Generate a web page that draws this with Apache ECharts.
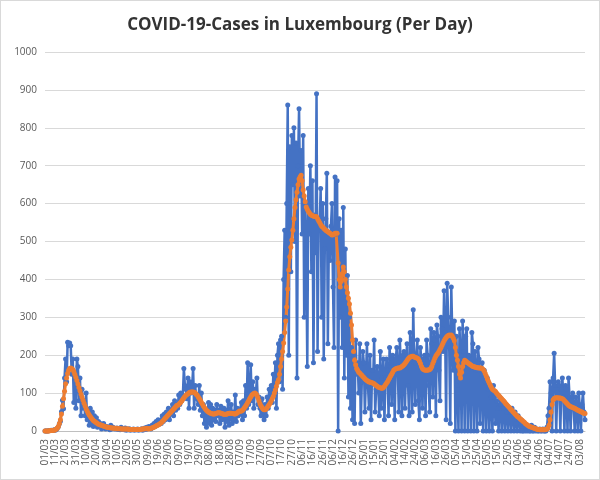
<!DOCTYPE html>
<html>
<head>
<meta charset="utf-8">
<script src="https://cdn.jsdelivr.net/npm/echarts@6/dist/echarts.min.js"></script>
<style>
html,body{margin:0;padding:0;background:#fff}
#chart{width:598px;height:478px;border:1px solid #d9d9d9}
</style>
</head>
<body>
<div id="chart"></div>
<script>
// daily new cases, 01/03/2020 .. 08/08/2021
var dailyCases = [
0,0,0,0,1,1,2,1,2,3,
2,4,7,12,19,26,51,81,59,140,
190,130,234,225,232,225,150,190,75,140,
60,190,170,80,140,40,110,60,80,40,
100,30,55,15,60,20,50,12,40,15,
35,10,25,15,20,5,15,20,10,5,
12,8,10,3,15,5,10,8,5,6,
8,4,6,3,10,4,5,3,8,2,
5,3,6,2,4,3,5,2,4,3,
5,2,4,3,6,2,5,8,4,10,
6,12,8,5,15,10,20,12,25,15,
30,18,25,20,40,25,45,30,50,35,
60,30,50,45,70,40,80,55,70,60,
95,70,100,80,90,165,120,110,85,140,
60,130,100,115,165,60,120,90,85,70,
120,55,100,40,70,20,50,10,45,75,
20,70,15,60,30,55,25,70,40,55,
20,65,30,40,60,10,55,25,80,15,
45,70,20,50,30,95,25,60,40,50,
45,75,30,80,40,120,60,180,70,100,
175,80,130,60,110,95,140,70,90,60,
40,85,55,30,70,40,90,60,110,80,
120,75,150,110,180,60,200,230,130,240,
250,110,400,530,300,600,860,200,750,420,
780,650,800,500,760,140,700,850,620,740,
520,780,300,600,480,170,640,520,700,420,
660,180,570,470,890,210,560,540,640,300,
600,190,480,560,680,230,520,450,540,600,
380,220,670,520,660,0,560,300,530,220,
590,140,480,200,410,90,300,60,220,30,
200,20,240,150,180,100,230,20,130,210,
180,50,140,230,120,60,200,30,160,130,
240,50,110,170,120,40,210,60,140,190,
30,140,190,160,40,220,180,70,200,170,
30,190,220,160,50,240,170,40,200,210,
60,180,230,120,40,260,220,50,320,180,
70,200,240,80,30,220,180,60,190,200,
40,240,200,120,50,270,230,90,260,240,
40,280,250,160,80,300,270,210,370,260,
30,390,300,220,20,380,250,160,290,0,
250,120,0,270,200,0,290,210,0,250,
270,0,200,180,0,260,230,0,210,160,
0,220,190,20,150,180,0,160,130,0,
140,110,0,120,90,0,120,90,20,80,
60,0,90,70,0,80,60,0,70,50,
0,60,50,0,60,40,0,50,20,0,
40,30,0,30,0,0,20,0,10,0,
10,0,0,15,0,0,10,0,5,0,
0,5,0,0,5,0,0,0,10,40,
60,130,100,0,140,205,120,0,100,130,
120,0,110,140,90,0,120,110,0,140,
90,0,80,100,60,0,90,70,0,100,
60,0,70,100,50,30
];
// 7-day average
var avgCases = [
0,0,0,0,0,1,1,1,2,2,
3,5,8,12,20,30,45,65,85,105,
125,140,152,160,165,166,165,162,157,150,
142,133,124,115,106,97,89,81,73,66,
59,53,47,42,38,34,31,28,26,24,
22,20,18,17,16,15,14,13,12,11,
10,10,9,9,8,8,8,7,7,7,
6,6,6,6,5,5,5,5,5,5,
5,5,4,4,4,4,4,4,4,4,
4,4,4,4,5,5,5,6,6,7,
5,6,6,7,8,9,10,12,13,15,
16,18,20,22,25,28,31,34,37,40,
43,46,49,52,55,58,61,64,67,68,
70,73,76,80,84,88,91,94,96,98,
101,102,103,103,103,102,100,97,94,90,
86,81,76,71,66,62,58,55,52,50,
48,47,46,45,45,45,46,47,48,48,
48,47,46,45,44,44,44,45,46,47,
47,47,46,46,45,45,46,48,50,53,
52,53,55,58,62,66,70,75,80,85,
90,94,97,99,100,98,94,88,80,72,
66,62,58,56,56,58,62,66,70,74,
80,86,92,100,108,118,128,135,150,170,
190,210,232,260,290,327,375,425,460,485,
504,530,560,590,610,630,650,665,670,675,
660,636,620,605,591,585,580,576,572,570,
568,567,566,566,565,560,555,550,545,540,
538,535,532,530,528,526,524,522,520,517,
518,520,522,522,522,443,400,380,395,415,
433,420,400,380,365,350,335,311,280,240,
210,187,175,165,160,155,153,150,147,144,
141,138,135,133,131,129,129,128,127,126,
125,122,120,118,116,115,114,113,113,115,
118,122,126,130,135,140,145,150,155,160,
162,164,165,166,166,166,168,170,172,175,
178,182,186,190,193,195,196,197,197,195,
194,193,192,190,185,178,170,165,162,161,
160,160,161,161,162,165,170,178,185,192,
198,202,205,210,215,220,226,232,238,243,
247,250,252,253,252,253,250,245,238,220,
200,187,170,150,140,155,170,180,187,185,
182,180,178,176,174,172,170,170,168,168,
167,167,166,166,166,165,162,158,152,145,
138,132,126,120,115,110,108,106,104,100,
97,94,91,88,85,82,79,76,72,69,
66,63,60,57,54,51,48,45,42,39,
37,35,32,30,28,25,23,20,18,16,
14,12,11,10,9,8,7,6,5,4,
4,3,3,3,3,3,3,4,5,8,
15,30,50,70,82,86,87,88,88,87,
87,87,86,85,83,80,77,74,71,68,
66,64,63,62,61,60,58,57,55,54,
52,51,50,48,47,46
];

// date labels dd/mm, one per day
var days = [];
var d = new Date(Date.UTC(2020, 2, 1));
for (var i = 0; i < dailyCases.length; i++) {
    var dd = ('0' + d.getUTCDate()).slice(-2);
    var mm = ('0' + (d.getUTCMonth() + 1)).slice(-2);
    days.push(dd + '/' + mm);
    d.setUTCDate(d.getUTCDate() + 1);
}

var mychart = echarts.init(document.getElementById('chart'));
var option = {
    animation: false,
    title: {
        text: 'COVID-19-Cases in Luxembourg (Per Day)',
        left: 'center',
        top: 11,
        textStyle: {fontFamily: 'Open Sans', fontSize: 17, fontWeight: 'bold', color: '#333'}
    },
    grid: {left: 44, right: 14, top: 51, bottom: 48},
    xAxis: {
        type: 'category',
        data: days,
        boundaryGap: false,
        axisLine: {lineStyle: {color: '#bfbfbf'}},
        axisTick: {show: false},
        axisLabel: {interval: 9, rotate: 90, color: '#595959', fontSize: 10, fontFamily: 'Open Sans'}
    },
    yAxis: {
        type: 'value',
        min: 0,
        max: 1000,
        interval: 100,
        axisLabel: {color: '#595959', fontSize: 10, fontFamily: 'Open Sans', formatter: function (v) { return String(v); }},
        splitLine: {lineStyle: {color: '#d9d9d9'}}
    },
    series: [
        {
            type: 'line',
            data: dailyCases,
            symbol: 'circle',
            symbolSize: 5,
            showAllSymbol: true,
            lineStyle: {color: '#4472C4', width: 2.5},
            itemStyle: {color: '#4472C4'}
        },
        {
            type: 'line',
            data: avgCases,
            symbol: 'circle',
            symbolSize: 5,
            showAllSymbol: true,
            lineStyle: {color: '#ED7D31', width: 3},
            itemStyle: {color: '#ED7D31'}
        }
    ]
};
mychart.setOption(option);
</script>
</body>
</html>
